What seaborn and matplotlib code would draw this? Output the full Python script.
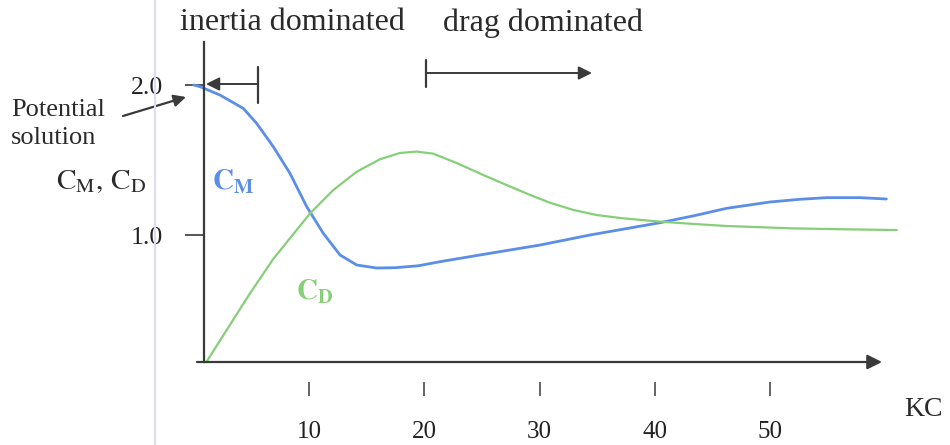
import matplotlib
matplotlib.use("Agg")
import matplotlib.pyplot as plt
import seaborn as sns
import pandas as pd
from matplotlib.lines import Line2D

# ---- data ----
kc_cm = [0.0, 0.54, 2.28, 4.3, 5.46, 6.9, 8.35, 9.8, 11.24, 12.69, 14.14, 15.87,
         17.5, 19.5, 21.37, 25.7, 30.04, 34.38, 40.46, 43.5, 46.24, 50.0, 52.6,
         54.92, 57.8, 60.1]
cm = [2.0, 1.989, 1.933, 1.844, 1.744, 1.589, 1.411, 1.189, 1.011, 0.867, 0.80,
      0.78, 0.782, 0.795, 0.822, 0.878, 0.933, 1.0, 1.082, 1.13, 1.178, 1.22,
      1.238, 1.249, 1.249, 1.24]
kc_cd = [1.12, 2.86, 4.88, 6.9, 8.64, 10.09, 12.11, 14.14, 16.16, 17.9, 19.34,
         20.79, 22.81, 25.12, 27.15, 29.18, 30.91, 32.93, 34.96, 37.27, 40.46,
         43.5, 46.24, 52.02, 56.5, 61.0]
cd = [0.156, 0.367, 0.611, 0.84, 1.006, 1.144, 1.30, 1.422, 1.505, 1.547, 1.556,
      1.542, 1.48, 1.40, 1.333, 1.267, 1.215, 1.167, 1.133, 1.111, 1.089, 1.073,
      1.06, 1.044, 1.038, 1.033]
x_ticks = [10, 20, 30, 40, 50]
y_ticks = [1.0, 2.0]
y_tick_labels = ["1.0", "2.0"]

BLUE = "#5b8ee6"
GREEN = "#86cf78"
AX = "#3a3a3a"

sns.set_theme(style="white")
plt.rcParams["font.family"] = ["Liberation Serif", "DejaVu Serif"]
plt.rcParams["mathtext.fontset"] = "stix"

df = pd.concat([
    pd.DataFrame({"KC": kc_cm, "coef": cm, "series": "CM"}),
    pd.DataFrame({"KC": kc_cd, "coef": cd, "series": "CD"}),
])

W, H = 950, 445
fig = plt.figure(figsize=(W / 100, H / 100), dpi=100)
ax = fig.add_axes([0, 0, 1, 1])

# pixel -> data mapping
x0px, xs = 193.75, 11.525
y0px, ys = 385.0, 150.0
def dx(p): return (p - x0px) / xs
def dy(p): return (y0px - p) / ys

ax.set_xlim(dx(0), dx(W))
ax.set_ylim(dy(H), dy(0))

sns.lineplot(data=df, x="KC", y="coef", hue="series",
             palette={"CM": BLUE, "CD": GREEN}, estimator=None, sort=False,
             legend=False, ax=ax, linewidth=2.0)
for ln in ax.lines:
    c = ln.get_color()
    if isinstance(c, str) and c.lower() == GREEN:
        ln.set_linewidth(1.6)
    ln.set_solid_joinstyle("round")

ax.set_xlabel("")
ax.set_ylabel("")

# spines
for s in ["top", "right"]:
    ax.spines[s].set_visible(False)
ax.spines["left"].set_position(("data", dx(204)))
ax.spines["left"].set_bounds(dy(362), dy(42))
ax.spines["left"].set_color(AX)
ax.spines["left"].set_linewidth(1.6)
ax.spines["bottom"].set_position(("data", dy(382)))
ax.spines["bottom"].set_visible(False)

ax.set_xticks(x_ticks)
ax.set_xticklabels([str(v) for v in x_ticks])
ax.set_yticks(y_ticks)
ax.set_yticklabels(y_tick_labels)
ax.tick_params(axis="x", direction="out", length=10, width=1.1, color=AX,
               pad=18, labelsize=18, labelcolor="#222222", bottom=True)
ax.tick_params(axis="y", direction="out", length=13.5, width=1.2, color=AX,
               pad=16, labelsize=18.5, labelcolor="#222222", left=True)

# x axis with arrow
ax.annotate("", xy=(dx(882), dy(362)), xytext=(dx(197), dy(362)),
            arrowprops=dict(arrowstyle="-|>", color=AX, lw=1.6,
                            mutation_scale=22, shrinkA=0, shrinkB=0))

# inertia-dominated arrow
ax.plot([dx(258), dx(258)], [dy(67), dy(103)], color=AX, lw=1.6)
ax.annotate("", xy=(dx(206), dy(84)), xytext=(dx(258), dy(84)),
            arrowprops=dict(arrowstyle="-|>", color=AX, lw=1.4,
                            mutation_scale=20, shrinkA=0, shrinkB=0))
# drag-dominated arrow
ax.plot([dx(426), dx(426)], [dy(60), dy(87)], color=AX, lw=1.6)
ax.annotate("", xy=(dx(592), dy(73)), xytext=(dx(426), dy(73)),
            arrowprops=dict(arrowstyle="-|>", color=AX, lw=1.4,
                            mutation_scale=20, shrinkA=0, shrinkB=0))
# potential solution arrow
ax.annotate("", xy=(dx(186), dy(97)), xytext=(dx(123), dy(116)),
            arrowprops=dict(arrowstyle="-|>", color=AX, lw=1.6,
                            mutation_scale=18, shrinkA=0, shrinkB=0))

def ftext(x, y, s, **kw):
    fig.text(x / W, 1 - y / H, s, **kw)

TXT = "#2a2a2a"
ftext(180, 23, "inertia dominated", fontsize=23, ha="left", va="center", color=TXT)
ftext(443, 23, "drag dominated", fontsize=23, ha="left", va="center", color=TXT)
ftext(11, 124, "Potential\nsolution", fontsize=19, ha="left", va="center",
      color=TXT, linespacing=1.3)
ftext(56, 182, r"$\mathrm{C_M},\,\mathrm{C_D}$", fontsize=21, ha="left",
      va="center", color=TXT)
ftext(212, 182, r"$\mathbf{C_M}$", fontsize=21, ha="left", va="center", color=BLUE)
ftext(296, 292, r"$\mathbf{C_D}$", fontsize=21, ha="left", va="center", color=GREEN)
ftext(904, 410, "KC", fontsize=20, ha="left", va="center", color=TXT)

# faint page-border line
fig.add_artist(Line2D([155 / W, 155 / W], [0, 1], transform=fig.transFigure,
                      color="#dcdcee", lw=1.5))

fig.savefig("out.png", dpi=100)
